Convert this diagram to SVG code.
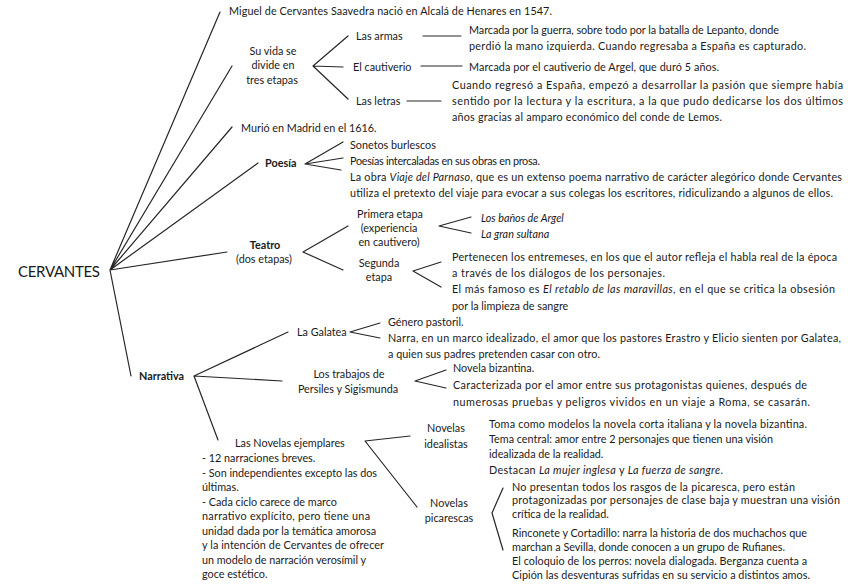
<svg xmlns="http://www.w3.org/2000/svg" width="848" height="587" viewBox="0 0 848 587">
<style>
text{font-family:"Lato","Liberation Sans",sans-serif;font-size:10.8px;fill:#1a1a1a}
.b{font-weight:bold}
.i{font-style:italic}
.m{text-anchor:middle}
.big{font-size:15px}
.ln{stroke:#262626;stroke-width:1.2;fill:none;stroke-linecap:round;stroke-linejoin:round}
</style>
<rect width="848" height="587" fill="#ffffff"/>
<g id="connectors" class="ln">
<path d="M110,270 L220,12 M110,270 L232,66 M110,270 L232,127 M110,270 L258,163 M110,270 L227,252 M110,270 L131,376"/>
<path d="M348,36 L313,66 L348,99 M313,66 L343,67"/>
<path d="M423,36 L461,36 M421,66 L462,66 M407,101 L441,101"/>
<path d="M343,142 L305,164 L341,170 M305,164 L343,158"/>
<path d="M348,226 L303,252 L343,270"/>
<path d="M471,217 L439,226 L471,233"/>
<path d="M441,262 L413,271 L441,287"/>
<path d="M288,332 L194,376 L218,440 M194,376 L282,381"/>
<path d="M380,323 L350,332 L380,338"/>
<path d="M446,370 L415,381 L446,388"/>
<path d="M410,436 L365,441 L417,507"/>
<path d="M503,488 L492,513 L503,550"/>
</g>
<g id="cervantes"><text x="18" y="277" class="big" textLength="82">CERVANTES</text></g>
<g id="nacimiento"><text x="229" y="15" textLength="323">Miguel de Cervantes Saavedra nació en Alcalá de Henares en 1547.</text></g>
<g id="etapas-vida">
<text x="273" y="55" class="m">Su vida se</text>
<text x="273" y="69" class="m">divide en</text>
<text x="272" y="84" class="m">tres etapas</text>
</g>
<g id="las-armas"><text x="356" y="40">Las armas</text></g>
<g id="el-cautiverio"><text x="353" y="71">El cautiverio</text></g>
<g id="las-letras"><text x="356" y="105">Las letras</text></g>
<g id="armas-desc">
<text x="469" y="34" textLength="310">Marcada por la guerra, sobre todo por la batalla de Lepanto, donde</text>
<text x="469" y="50" textLength="337">perdió la mano izquierda. Cuando regresaba a España es capturado.</text>
</g>
<g id="cautiverio-desc"><text x="469" y="71" textLength="250">Marcada por el cautiverio de Argel, que duró 5 años.</text></g>
<g id="letras-desc">
<text x="452" y="89" textLength="391">Cuando regresó a España, empezó a desarrollar la pasión que siempre había</text>
<text x="452" y="105" textLength="391">sentido por la lectura y la escritura, a la que pudo dedicarse los dos últimos</text>
<text x="452" y="121" textLength="270">años gracias al amparo económico del conde de Lemos.</text>
</g>
<g id="muerte"><text x="241" y="132">Murió en Madrid en el 1616.</text></g>
<g id="poesia"><text x="265" y="167" class="b">Poesía</text></g>
<g id="poesia-items">
<text x="350" y="149">Sonetos burlescos</text>
<text x="350" y="165" textLength="190">Poesías intercaladas en sus obras en prosa.</text>
<text x="350" y="181" textLength="492">La obra <tspan class="i">Viaje del Parnaso</tspan>, que es un extenso poema narrativo de carácter alegórico donde Cervantes</text>
<text x="350" y="197" textLength="483">utiliza el pretexto del viaje para evocar a sus colegas los escritores, ridiculizando a algunos de ellos.</text>
</g>
<g id="teatro">
<text x="265" y="249" class="m b">Teatro</text>
<text x="264" y="263" class="m">(dos etapas)</text>
</g>
<g id="primera-etapa">
<text x="390" y="218" class="m">Primera etapa</text>
<text x="389" y="232" class="m">(experiencia</text>
<text x="389" y="246" class="m">en cautivero)</text>
</g>
<g id="primera-obras">
<text x="481" y="222" class="i">Los baños de Argel</text>
<text x="481" y="238" class="i">La gran sultana</text>
</g>
<g id="segunda-etapa">
<text x="379" y="267" class="m">Segunda</text>
<text x="379" y="281" class="m">etapa</text>
</g>
<g id="segunda-desc">
<text x="452" y="261" textLength="385">Pertenecen los entremeses, en los que el autor refleja el habla real de la época</text>
<text x="452" y="277" textLength="213">a través de los diálogos de los personajes.</text>
<text x="452" y="293" textLength="383">El más famoso es <tspan class="i">El retablo de las maravillas</tspan>, en el que se critica la obsesión</text>
<text x="452" y="310">por la limpieza de sangre</text>
</g>
<g id="narrativa"><text x="139" y="380" class="b">Narrativa</text></g>
<g id="la-galatea"><text x="297" y="336">La Galatea</text></g>
<g id="galatea-desc">
<text x="388" y="326">Género pastoril.</text>
<text x="388" y="342" textLength="453">Narra, en un marco idealizado, el amor que los pastores Erastro y Elicio sienten por Galatea,</text>
<text x="388" y="358" textLength="212">a quien sus padres pretenden casar con otro.</text>
</g>
<g id="persiles">
<text x="349" y="378" class="m">Los trabajos de</text>
<text x="348" y="393" class="m">Persiles y Sigismunda</text>
</g>
<g id="persiles-desc">
<text x="453" y="372">Novela bizantina.</text>
<text x="453" y="389" textLength="354">Caracterizada por el amor entre sus protagonistas quienes, después de</text>
<text x="453" y="406" textLength="357">numerosas pruebas y peligros vividos en un viaje a Roma, se casarán.</text>
</g>
<g id="novelas-ejemplares">
<text x="235" y="447">Las Novelas ejemplares</text>
<text x="202" y="462">- 12 narraciones breves.</text>
<text x="202" y="477" textLength="175">- Son independientes excepto las dos</text>
<text x="202" y="491">últimas.</text>
<text x="202" y="506">- Cada ciclo carece de marco</text>
<text x="202" y="520" textLength="168">narrativo explícito, pero tiene una</text>
<text x="202" y="535" textLength="174">unidad dada por la temática amorosa</text>
<text x="202" y="549" textLength="182">y la intención de Cervantes de ofrecer</text>
<text x="202" y="564" textLength="164">un modelo de narración verosímil y</text>
<text x="202" y="578">goce estético.</text>
</g>
<g id="novelas-idealistas">
<text x="446" y="432" class="m">Novelas</text>
<text x="446" y="448" class="m">idealistas</text>
</g>
<g id="idealistas-desc">
<text x="489" y="428" textLength="318">Toma como modelos la novela corta italiana y la novela bizantina.</text>
<text x="489" y="443" textLength="284">Tema central: amor entre 2 personajes que tienen una visión</text>
<text x="489" y="458">idealizada de la realidad.</text>
<text x="489" y="474" textLength="234">Destacan <tspan class="i">La mujer inglesa</tspan> y <tspan class="i">La fuerza de sangre</tspan>.</text>
</g>
<g id="novelas-picarescas">
<text x="449" y="507" class="m">Novelas</text>
<text x="449" y="522" class="m">picarescas</text>
</g>
<g id="picarescas-desc">
<text x="512" y="491" textLength="283">No presentan todos los rasgos de la picaresca, pero están</text>
<text x="512" y="504" textLength="328">protagonizadas por personajes de clase baja y muestran una visión</text>
<text x="512" y="518">crítica de la realidad.</text>
<text x="512" y="537" textLength="295">Rinconete y Cortadillo: narra la historia de dos muchachos que</text>
<text x="512" y="551" textLength="273">marchan a Sevilla, donde conocen a un grupo de Rufianes.</text>
<text x="512" y="565" textLength="295">El coloquio de los perros: novela dialogada. Berganza cuenta a</text>
<text x="512" y="579" textLength="298">Cipión las desventuras sufridas en su servicio a distintos amos.</text>
</g>
</svg>
